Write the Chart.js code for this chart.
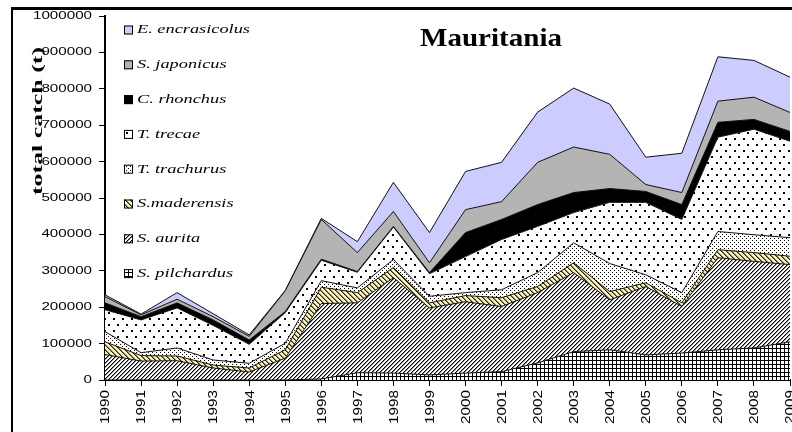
<!DOCTYPE html>
<html>
<head>
<meta charset="utf-8">
<script src="https://cdn.jsdelivr.net/npm/chart.js@4.4.1/dist/chart.umd.min.js"></script>
<style>
html, body { margin: 0; padding: 0; background: #fff; overflow: hidden; }
#wrap { width: 792px; height: 432px; overflow: hidden; }
canvas { display: block; }
</style>
</head>
<body>
<div id="wrap"><canvas id="catchChart" width="840" height="432"></canvas></div>
<script>
var years = ['1990','1991','1992','1993','1994','1995','1996','1997','1998','1999',
             '2000','2001','2002','2003','2004','2005','2006','2007','2008','2009'];

// catches in tonnes, stacked bottom -> top
var pilchardus   = [0,0,0,0,0,0,3000,20000,19000,14000,19000,23000,47000,78000,83000,69000,74000,83000,88000,105000];
var aurita       = [70000,52000,53000,33000,22000,60000,207000,192000,262000,184000,196000,179000,193000,217000,137000,188000,128000,253000,238000,212000];
var maderensis   = [35000,15000,13000,8000,11000,23000,45000,28000,28000,14000,17000,24000,17000,27000,23000,10000,10000,22000,24000,23000];
var trachurus    = [28000,8000,22000,14000,13000,18000,18000,13000,22000,18000,8000,22000,38000,55000,77000,22000,28000,50000,49000,51000];
var trecae       = [60000,90000,110000,95000,52000,84000,56000,43000,89000,62000,99000,138000,127000,83000,168000,199000,201000,259000,290000,265000];
var rhonchus     = [19000,9000,14000,15000,12000,3000,3000,2000,2000,3000,66000,55000,60000,55000,38000,30000,41000,41000,27000,27000];
var japonicus    = [17000,5000,10000,9000,10000,57000,109000,52000,41000,27000,63000,49000,116000,125000,94000,19000,33000,58000,61000,52000];
var encrasicolus = [5000,2000,18000,8000,4000,1000,3000,30000,80000,83000,105000,108000,138000,162000,138000,75000,108000,122000,101000,97000];

var yTicks = [0,100000,200000,300000,400000,500000,600000,700000,800000,900000,1000000];

var canvas = document.getElementById('catchChart');
var ctx = canvas.getContext('2d');

function tile(w, h, bg, draw) {
  var c = document.createElement('canvas');
  c.width = w; c.height = h;
  var g = c.getContext('2d');
  g.fillStyle = bg;
  g.fillRect(0, 0, w, h);
  g.fillStyle = '#000';
  draw(g, w, h);
  return ctx.createPattern(c, 'repeat');
}

var patGrid = tile(4, 4, '#fff', function(g) { g.fillRect(0, 0, 4, 1); g.fillRect(0, 0, 1, 4); });
var patHatch = tile(4, 4, '#fff', function(g) {
  for (var i = 0; i < 4; i++) {
    g.fillStyle = '#000'; g.fillRect(i, 3 - i, 1, 1);
    g.fillStyle = '#888'; g.fillRect((i + 1) % 4, 3 - i, 1, 1);
  }
});
var patYellow = tile(5, 5, '#fbf3b5', function(g) {
  for (var i = 0; i < 5; i++) { g.fillStyle = '#222'; g.fillRect(i, i, 1, 1); g.fillStyle = '#8a8460'; g.fillRect((i + 1) % 5, i, 1, 1); }
});
var patDense = tile(4, 4, '#fff', function(g) { g.fillRect(0, 0, 1, 1); g.fillRect(2, 2, 1, 1); });
var patSparse = tile(9, 12, '#fff', function(g) { g.fillRect(0, 0, 2, 2); g.fillRect(5, 6, 2, 2); });

var series = [
  { label: 'S. pilchardus', data: pilchardus, bg: patGrid },
  { label: 'S. aurita', data: aurita, bg: patHatch },
  { label: 'S.maderensis', data: maderensis, bg: patYellow },
  { label: 'T. trachurus', data: trachurus, bg: patDense },
  { label: 'T. trecae', data: trecae, bg: patSparse },
  { label: 'C. rhonchus', data: rhonchus, bg: '#000' },
  { label: 'S. japonicus', data: japonicus, bg: '#b4b4b4' },
  { label: 'E. encrasicolus', data: encrasicolus, bg: '#ccccff' }
];

var datasets = series.map(function(s, i) {
  return {
    label: s.label,
    data: s.data,
    backgroundColor: s.bg,
    borderColor: '#111',
    borderWidth: 1,
    fill: i === 0 ? 'origin' : '-1',
    pointRadius: 0,
    tension: 0
  };
});

function stretched(c, text, x, y, scale) {
  c.save();
  c.translate(x, y);
  c.scale(scale, 1);
  c.fillText(text, 0, 0);
  c.restore();
}

var decor = {
  id: 'decor',
  afterDraw: function(chart) {
    var c = chart.ctx;
    var xs = chart.scales.x, ys = chart.scales.y;
    c.save();
    c.fillStyle = '#000';
    // chart border
    c.fillRect(11, 7, 900, 3);
    c.fillRect(11, 7, 2, 500);

    // title
    c.font = 'bold 26px "Liberation Serif"';
    c.textAlign = 'center';
    c.textBaseline = 'alphabetic';
    stretched(c, 'Mauritania', 491, 46, 142 / c.measureText('Mauritania').width);

    // y axis title
    c.save();
    c.translate(42, 121);
    c.rotate(-Math.PI / 2);
    c.font = 'bold 14px "Liberation Serif"';
    stretched(c, 'total catch (t)', 0, 0, 148 / c.measureText('total catch (t)').width);
    c.restore();

    // y tick labels
    c.font = '11px "Liberation Sans"';
    c.textAlign = 'right';
    c.textBaseline = 'middle';
    var sy = 59 / c.measureText('1000000').width;
    yTicks.forEach(function(v) {
      stretched(c, String(v), 92, ys.getPixelForValue(v), sy);
    });

    // x tick labels
    c.font = '12px "Liberation Sans"';
    var sx = 34 / c.measureText('1990').width;
    years.forEach(function(lab, i) {
      c.save();
      c.translate(xs.getPixelForValue(i) + 1, 390);
      c.rotate(-Math.PI / 2);
      c.textAlign = 'right';
      c.textBaseline = 'middle';
      c.scale(sx, 1);
      c.fillText(lab, 0, 0);
      c.restore();
    });

    // legend
    c.font = 'italic 13px "Liberation Serif"';
    c.textAlign = 'left';
    c.textBaseline = 'middle';
    var sl = 113 / c.measureText('E. encrasicolus').width;
    for (var k = series.length - 1, row = 0; k >= 0; k--, row++) {
      var yy = 30 + row * 34.8;
      c.fillStyle = series[k].bg;
      c.fillRect(124, yy - 4.5, 9, 9);
      c.strokeStyle = '#000';
      c.lineWidth = 1;
      c.strokeRect(124.5, yy - 4, 8, 8);
      c.fillStyle = '#000';
      stretched(c, series[k].label, 137, yy, sl);
    }
    c.restore();
  }
};

new Chart(ctx, {
  type: 'line',
  data: { labels: years, datasets: datasets },
  options: {
    responsive: false,
    animation: false,
    layout: { padding: { left: 0, top: 16, right: 50, bottom: 0 } },
    plugins: { legend: { display: false }, tooltip: { enabled: false }, title: { display: false } },
    scales: {
      x: {
        offset: false,
        ticks: { display: false },
        grid: { drawOnChartArea: false, drawTicks: true, tickLength: 6, color: '#000', lineWidth: 1 },
        border: { display: true, color: '#000', width: 2 },
        afterFit: function(s) { s.height = 52; }
      },
      y: {
        stacked: true,
        min: 0,
        max: 1000000,
        ticks: { display: false, stepSize: 100000 },
        grid: { drawOnChartArea: false, drawTicks: true, tickLength: 6, color: '#000', lineWidth: 1 },
        border: { display: true, color: '#000', width: 2 },
        afterFit: function(s) { s.width = 105; }
      }
    }
  },
  plugins: [decor]
});
</script>
</body>
</html>
